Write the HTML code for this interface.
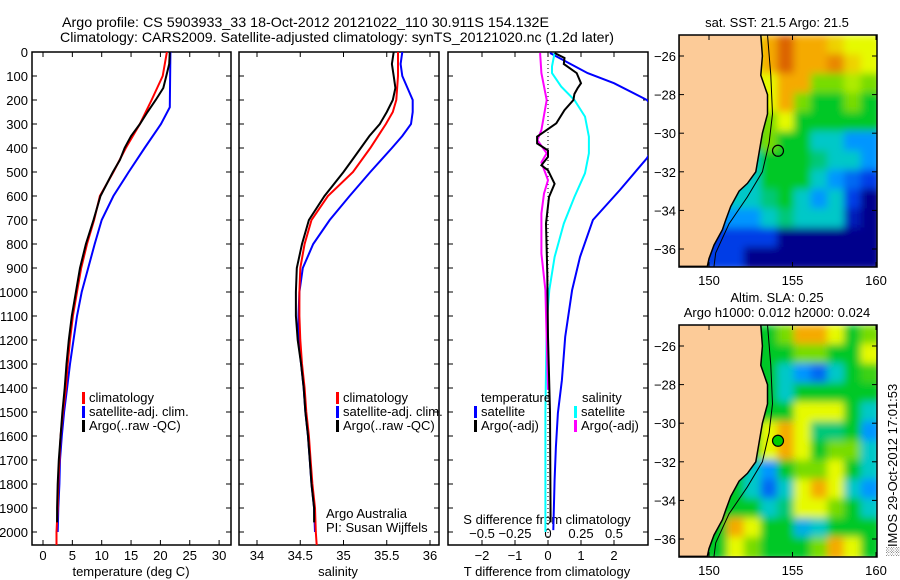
<!DOCTYPE html>
<html><head><meta charset="utf-8"><style>
body{margin:0;background:#fff;}
svg{display:block;font-family:"Liberation Sans",sans-serif;}
</style></head><body>
<svg id="fig" width="900" height="580" viewBox="0 0 900 580" xmlns="http://www.w3.org/2000/svg">
<defs>
<filter id="blur" x="-10%" y="-10%" width="120%" height="120%"><feGaussianBlur stdDeviation="4"/></filter>
<clipPath id="c1"><rect x="32" y="52" width="199" height="493"/></clipPath>
<clipPath id="c2"><rect x="239" y="52" width="200" height="493"/></clipPath>
<clipPath id="c3"><rect x="448" y="52" width="200" height="493"/></clipPath>
<clipPath id="m1"><rect x="679" y="35" width="198" height="232"/></clipPath>
<clipPath id="m2"><rect x="679" y="325" width="198" height="232"/></clipPath>
</defs>
<text x="62" y="27" font-size="14" textLength="487" lengthAdjust="spacingAndGlyphs">Argo profile: CS 5903933_33 18-Oct-2012 20121022_110 30.911S 154.132E</text>
<text x="60" y="42" font-size="14" textLength="554" lengthAdjust="spacingAndGlyphs">Climatology: CARS2009. Satellite-adjusted climatology: synTS_20121020.nc (1.2d later)</text>
<g id="g"></g>
</svg>
<script>
// ---- data ----
const depthT = [0,100,200,300,400,500,600,700,800,900,1000,1100,1200,1300,1400,1500,1600,1700,1800,1900,2000,2054];
const tempClim = [21.1,20.4,18.5,16.5,14.1,12,9.7,8.7,7.5,6.5,5.8,5.1,4.6,4.2,3.9,3.4,3.0,2.8,2.6,2.5,2.3,2.3];
const depthSat = [0,230,300,400,500,600,700,800,900,1000,1100,1200,1300,1400,1500,1600,1700,1800,1900,2000];
const tempSat = [21.7,21.6,20.1,17.3,14.6,12.0,10.0,8.8,7.7,6.6,5.8,5.2,4.6,4.1,3.6,3.2,2.9,2.8,2.6,2.5];
const depthArgo = [0,50,100,150,200,250,300,350,400,450,500,600,700,800,900,1000,1100,1200,1300,1400,1500,1600,1700,1800,1900,1960];
const tempArgo = [21.6,21.5,21,20.5,19.2,17.8,16.5,15,13.9,13.1,11.9,9.8,8.6,7.3,6.3,5.6,4.9,4.4,4,3.7,3.3,3,2.7,2.5,2.4,2.4];
const depthS = [0,100,200,250,300,400,500,600,700,800,900,1000,1100,1200,1300,1400,1500,1600,1700,1800,1900,2000,2054];
const salClim = [35.63,35.63,35.61,35.57,35.49,35.31,35.11,34.82,34.63,34.55,34.5,34.49,34.49,34.5,34.52,34.55,34.57,34.6,34.62,34.64,34.67,34.68,34.69];
const depthSSat = [0,50,100,150,200,250,300,350,400,500,600,700,800,900,1000,1100,1200,1300,1400,1500,1600,1700,1800,1900,2000];
const salSat = [35.68,35.66,35.68,35.74,35.8,35.8,35.78,35.68,35.56,35.31,35.07,34.84,34.65,34.53,34.49,34.48,34.48,34.51,34.54,34.56,34.59,34.61,34.63,34.66,34.67];
const salArgo = [35.58,35.56,35.58,35.6,35.57,35.5,35.42,35.3,35.2,35.1,35.0,34.78,34.6,34.52,34.46,34.45,34.45,34.47,34.51,34.54,34.56,34.59,34.61,34.63,34.66,34.66];
const depthDT = [4,88,130,200,250,300,350,400,442,575,700,854,992,1187,1367,1504,1646,1783,1992];
const dTSat = [0.06,1.2,2.0,3.0,3.3,3.5,3.5,3.2,3.0,2.18,1.36,0.97,0.73,0.52,0.42,0.3,0.24,0.2,0.16];
const depthDTA = [4,25,50,88,130,150,175,200,242,297,353,381,410,437,472,493,549,604,715,924,1187,1500,1960];
const dTArgo = [0.2,0.5,0.48,0.87,1.0,0.9,0.8,0.77,0.5,0.25,-0.33,-0.33,0,0,-0.2,0,0.2,0.03,-0.06,-0.02,0,0.06,0.08];
const depthDS = [4,60,88,144,200,269,353,422,505,604,715,854,992,1132,1500,2000];
const dSSat = [0.05,0.03,0.03,0.1,0.2,0.28,0.31,0.31,0.28,0.2,0.12,0.05,0.01,-0.01,-0.02,-0.02];
const depthDSA = [4,88,200,325,367,422,460,534,590,673,840,992,1408];
const dSArgo = [-0.06,-0.05,-0.01,-0.05,-0.08,-0.01,-0.05,0,-0.03,-0.05,-0.05,-0.02,0];
const depthTicks = [0,100,200,300,400,500,600,700,800,900,1000,1100,1200,1300,1400,1500,1600,1700,1800,1900,2000];
const tTicks = [0,5,10,15,20,25,30];
const sTicks = [34,34.5,35,35.5,36];
const sTickLabels = ["34","34.5","35","35.5","36"];
const dTTicks = [-2,-1,0,1,2];
const dSTicks = [-0.5,-0.25,0,0.25,0.5];
const dSTickLabels = ["\u22120.5","\u22120.25","0","0.25","0.5"];
const latTicks = [-26,-28,-30,-32,-34,-36];
const lonTicks = [150,155,160];
const gridLats = [-25.5,-26.5,-27.5,-28.5,-29.5,-30.5,-31.5,-32.5,-33.5,-34.5,-35.5,-36.5];
const gridLons = [148.7,149.7,150.7,151.7,152.7,153.7,154.7,155.7,156.7,157.7,158.7,159.7];
const sst = [
[6,6,6,6,6,7,8,7,7,6.5,6,6],
[6,6,6,6,6,7,8,7,7,7.5,6.5,6],
[6,6,6,6,6,6,7,7,5,5,5.5,5],
[6,6,6,6,5,6,7,5,4,4,5,4],
[5,5,5,5,4,5,6,4,4,4,4,4],
[4,4,4,4,4,5,4,4,3,3,2,2],
[4,4,4,4,3,4,4,4,3.5,3,3,2],
[3,3,3,3,3,4,4,4,3,2,1.5,1],
[3,3,3,3,3,3.5,4,3,2,3,1,0],
[2,2,2,2,2,3,3.5,3,3,3,0.5,0],
[1,1,1,1,1,1,0,0,0,0,0,0],
[1,1,1,1,0,0,0,0,0,0,0,0]];
const sla = [
[4,4,4,4,4,4,5,7,7,6,4,5],
[4,4,4,4,4,4,4,5,5,4,4,6],
[4,4,4,4,4,4,3,2,1.5,3,4,4.5],
[4,4,4,4,4,4,3,4,4,4,4,4],
[4,4,4,4,4,4,4,6,6,6,4,3],
[4,4,4,4,4,6,7,6,3.5,3.5,4,2],
[4,4,4,4,4,6,7,6,4,5,5,3],
[4,4,4,4,3,2,4,5,5,6,4,3],
[4,4,4,4,3,1.5,3,6,7,6,3,2],
[4,4,4,4,4,3,3.5,6,6,5,4,3],
[4,4,4,7,6,4,4,2.5,3,4,4,4],
[4,4,4,6,5,4,4,4,5,7,6,4]];
const coastLon = [148.2,153.1,153.2,153.1,153.5,153.5,153.2,153.0,152.8,152.3,151.8,151.3,151.0,150.8,150.3,150.0,149.9,148.2];
const coastLat = [-24.9,-24.9,-26,-27,-28,-29,-30,-31,-32,-32.6,-33,-33.8,-34.5,-35,-35.8,-36.5,-36.9,-36.9];
const shelfLon = [153.5,153.7,153.8,153.6,153.2,152.3,151.2,150.4,150.3];
const shelfLat = [-24.9,-27,-29,-30.5,-32,-33.3,-34.7,-36.2,-36.9];
const argoLon = 154.132, argoLat = -30.911;

// ---- helpers ----
const NS = "http://www.w3.org/2000/svg";
const G = document.getElementById('g');
function mk(tag, attrs, parent){const e=document.createElementNS(NS,tag);for(const k in attrs)e.setAttribute(k,attrs[k]);(parent||G).appendChild(e);return e;}
const yD = d => 52 + d*0.24;
const xT = t => 43 + t*5.87;
const xS = s => 257 + (s-34)*86.5;
const xDT = v => 548 + v*33;
const xDS = v => 548 + v*132;
const lonX = lon => 709 + (lon-150)*16.7;
const latY0 = lat => 56 + (-26-lat)*19.3;
const latY1 = lat => 346 + (-26-lat)*19.3;

function line(xs, ds, fx, color, clip, name){
  const pts = xs.map((v,i)=>fx(v).toFixed(1)+","+yD(ds[i]).toFixed(1)).join(" ");
  const p = mk('polyline',{points:pts,fill:'none',stroke:color,'stroke-width':2,'clip-path':'url(#'+clip+')'});
  
  
}
function txt(x,y,s,opts){const t=mk('text',Object.assign({x:x,y:y,'font-size':13},opts||{}));t.textContent=s;return t;}

function panel(x0,x1,name){
  const r = mk('rect',{x:x0,y:52,width:x1-x0,height:493,fill:'none',stroke:'#000','stroke-width':1.5});
  
  
  depthTicks.forEach(d=>{mk('line',{x1:x0,x2:x0+5,y1:yD(d),y2:yD(d),stroke:'#000'});mk('line',{x1:x1,x2:x1-5,y1:yD(d),y2:yD(d),stroke:'#000'});});
}
function xticks(vals,fx,labels,ly){
  vals.forEach((v,i)=>{const x=fx(v);mk('line',{x1:x,x2:x,y1:545,y2:540,stroke:'#000'});mk('line',{x1:x,x2:x,y1:52,y2:57,stroke:'#000'});
    const t=txt(x,ly,labels?labels[i]:String(v).replace('-','\u2212'),{'text-anchor':'middle'});
    
    });
}

// panel 1
panel(32,231,'temperature-panel');
depthTicks.forEach(d=>{const t=txt(28,yD(d)+5,String(d),{'text-anchor':'end'});
  
  });
xticks(tTicks,xT,null,560);
txt(131,576,'temperature (deg C)',{'text-anchor':'middle'});
line(tempSat,depthSat,xT,'#0000ff','c1','temp-satellite-line');
line(tempClim,depthT,xT,'#ff0000','c1','temp-climatology-line');
line(tempArgo,depthArgo,xT,'#000000','c1','temp-argo-line');
function legend(x,y,items,name){
  const g = mk('g',{});
  
  
  items.forEach((it,i)=>{mk('rect',{x:x,y:y+i*14-10,width:3,height:12,fill:it[1]},g);
    const t=mk('text',{x:x+7,y:y+i*14,'font-size':13},g);t.textContent=it[0];});
}
legend(82,402,[['climatology','#ff0000'],['satellite-adj. clim.','#0000ff'],['Argo(..raw -QC)','#000']],'temperature-legend');

// panel 2
panel(239,439,'salinity-panel');
xticks(sTicks,xS,sTickLabels,560);
txt(338,576,'salinity',{'text-anchor':'middle'});
line(salSat,depthSSat,xS,'#0000ff','c2','sal-satellite-line');
line(salClim,depthS,xS,'#ff0000','c2','sal-climatology-line');
line(salArgo,depthArgo,xS,'#000000','c2','sal-argo-line');
legend(336,402,[['climatology','#ff0000'],['satellite-adj. clim.','#0000ff'],['Argo(..raw -QC)','#000']],'salinity-legend');
txt(326,518,'Argo Australia');
txt(326,532,'PI: Susan Wijffels');

// panel 3
panel(448,648,'difference-panel');
mk('line',{x1:548,x2:548,y1:52,y2:545,stroke:'#000','stroke-dasharray':'1,3'});
xticks(dTTicks,xDT,null,560);
txt(547,576,'T difference from climatology',{'text-anchor':'middle'});
dSTicks.forEach((v,i)=>{const t=txt(xDS(v),538,dSTickLabels[i],{'text-anchor':'middle'});
  
  });
txt(547,524,'S difference from climatology',{'text-anchor':'middle'});
line(dTSat,depthDT,xDT,'#0000ff','c3','tdiff-satellite-line');
line(dSSat,depthDS,xDS,'#00ffff','c3','sdiff-satellite-line');
line(dSArgo,depthDSA,xDS,'#ff00ff','c3','sdiff-argo-line');
line(dTArgo,depthDTA,xDT,'#000000','c3','tdiff-argo-line');
txt(481,402,'temperature');
txt(582,402,'salinity');
legend(474,416,[['satellite','#0000ff'],['Argo(-adj)','#000']],'tdiff-legend');
legend(574,416,[['satellite','#00ffff'],['Argo(-adj)','#ff00ff']],'sdiff-legend');

// maps
const pal = [[0,0,140],[0,60,230],[0,150,255],[0,200,200],[0,200,40],[120,220,0],[230,250,0],[245,170,0],[220,100,0]];
function col(v){const i=Math.min(7,Math.floor(v)),f=v-i,a=pal[i],b=pal[i+1];
  return 'rgb('+a.map((c,k)=>Math.round(c+(b[k]-c)*f)).join(',')+')';}
function map(data,latY,clip,y0,name,dotFill){
  const g = mk('g',{'clip-path':'url(#'+clip+')'});
  
  
  const h = mk('g',{filter:'url(#blur)'},g);
  data.forEach((row,r)=>row.forEach((v,c)=>{
    const cell = mk('rect',{x:lonX(gridLons[c]-0.5)-2,y:latY(gridLats[r]+0.5)-2,width:16.7+4,height:19.3+4,fill:col(v)},h);
    
    
  }));
  const land = coastLon.map((l,i)=>lonX(l).toFixed(1)+','+latY(coastLat[i]).toFixed(1)).join(' ');
  const lp = mk('polygon',{points:land,fill:'#fccb98',stroke:'#000','stroke-width':1.5},g);
  
  
  mk('polyline',{points:shelfLon.map((l,i)=>lonX(l).toFixed(1)+','+latY(shelfLat[i]).toFixed(1)).join(' '),fill:'none',stroke:'#000','stroke-width':1},g);
  const dot = mk('circle',{cx:lonX(argoLon),cy:latY(argoLat),r:5.5,fill:dotFill,stroke:'#000','stroke-width':1.2},g);
  
  
  mk('rect',{x:679,y:y0,width:198,height:232,fill:'none',stroke:'#000','stroke-width':1.5});
  latTicks.forEach(l=>{const y=latY(l);mk('line',{x1:679,x2:684,y1:y,y2:y,stroke:'#000'});mk('line',{x1:877,x2:872,y1:y,y2:y,stroke:'#000'});
    const t=txt(676,y+5,'\u2212'+(-l),{'text-anchor':'end'});
    
    });
  lonTicks.forEach(l=>{const x=lonX(l);mk('line',{x1:x,x2:x,y1:y0,y2:y0+5,stroke:'#000'});mk('line',{x1:x,x2:x,y1:y0+232,y2:y0+227,stroke:'#000'});
    const t=txt(x,y0+250,String(l),{'text-anchor':'middle'});
    
    });
}
map(sst,latY0,'m1',35,'sst-map','none');
map(sla,latY1,'m2',325,'sla-map','#00cc00');
txt(777,27,'sat. SST: 21.5 Argo: 21.5',{'text-anchor':'middle'});
txt(777,302,'Altim. SLA: 0.25',{'text-anchor':'middle'});
txt(777,317,'Argo h1000: 0.012 h2000: 0.024',{'text-anchor':'middle'});
const ts = txt(0,0,'\u2591IMOS 29-Oct-2012 17:01:53',{'text-anchor':'middle',transform:'translate(897,470) rotate(-90)'});


</script>
</body></html>
